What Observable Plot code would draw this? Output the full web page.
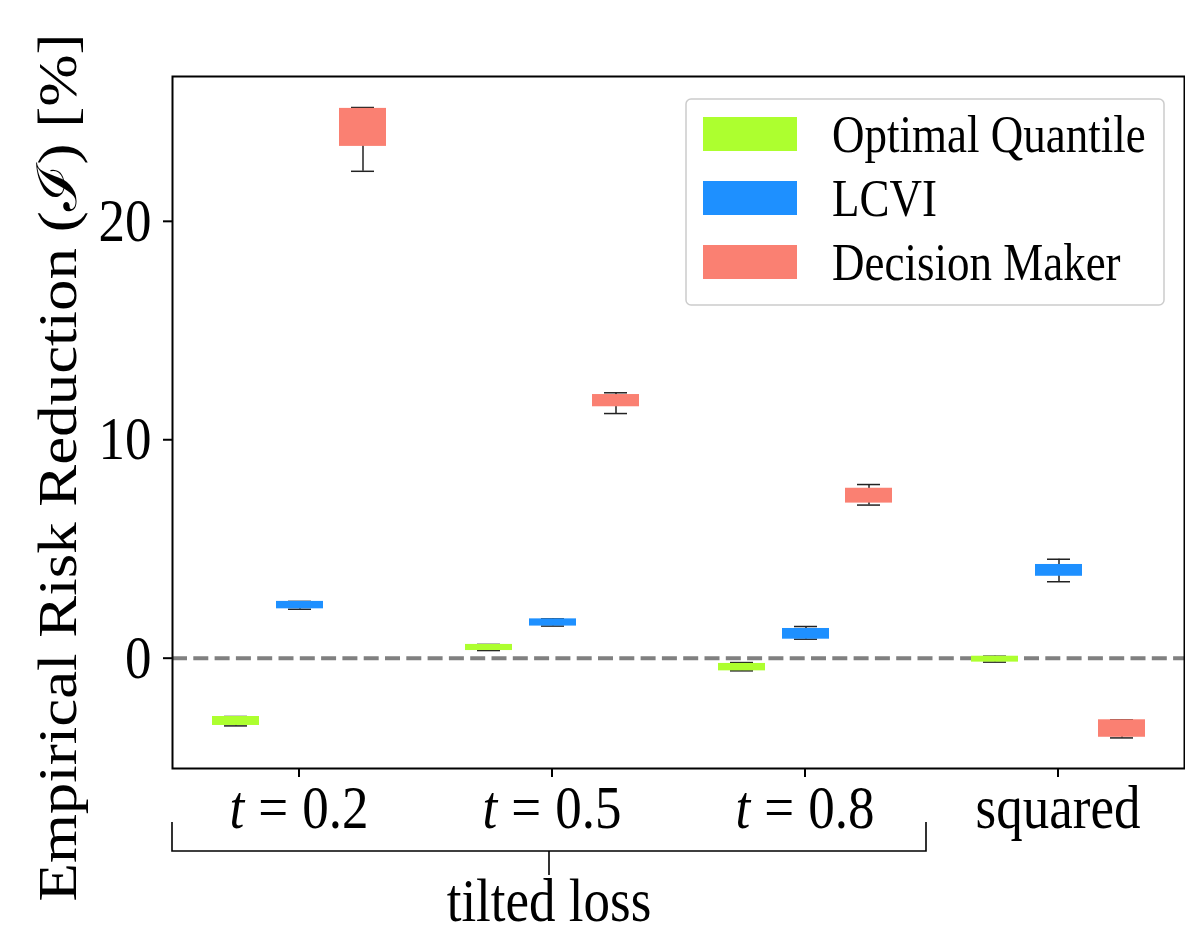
<!DOCTYPE html>
<html>
<head>
<meta charset="utf-8">
<script src="https://cdn.jsdelivr.net/npm/d3@7"></script>
<script src="https://cdn.jsdelivr.net/npm/@observablehq/plot@0.6"></script>
<style>
  html, body { margin: 0; padding: 0; background: white; }
  #chart { width: 1185px; height: 936px; }
</style>
</head>
<body>
<div id="chart"></div>
<script>
// ---- Data ----
const losses = ["t = 0.2", "t = 0.5", "t = 0.8", "squared"];
const methods = ["Optimal Quantile", "LCVI", "Decision Maker"];
const colors = ["#ADFF2F", "#1E90FF", "#FA8072"];
const yTicks = [0, 10, 20];
const yLabel = "Empirical Risk Reduction (\u2110) [%]";
const groupLabel = "tilted loss";

// Optimal Quantile
const oqQ1 = [-3.08, 0.35, -0.58, -0.18];
const oqQ3 = [-2.67, 0.63, -0.24, 0.09];
const oqLo = [-3.10, 0.35, -0.58, -0.18];
const oqHi = [-2.67, 0.63, -0.20, 0.09];
// LCVI
const lcviQ1 = [2.26, 1.47, 0.87, 3.75];
const lcviQ3 = [2.60, 1.80, 1.36, 4.29];
const lcviLo = [2.24, 1.47, 0.87, 3.50];
const lcviHi = [2.60, 1.80, 1.45, 4.53];
// Decision Maker
const dmQ1 = [23.43, 11.51, 7.10, -3.62];
const dmQ3 = [25.17, 12.07, 7.78, -2.82];
const dmLo = [22.29, 11.20, 7.01, -3.65];
const dmHi = [25.21, 12.15, 7.95, -2.82];

const stats = [
  {q1: oqQ1, q3: oqQ3, lo: oqLo, hi: oqHi},
  {q1: lcviQ1, q3: lcviQ3, lo: lcviLo, hi: lcviHi},
  {q1: dmQ1, q3: dmQ3, lo: dmLo, hi: dmHi}
];
const rowsByMethod = methods.map((m, i) => losses.map((l, j) => ({
  method: m, loss: l,
  q1: stats[i].q1[j], q3: stats[i].q3[j], lo: stats[i].lo[j], hi: stats[i].hi[j]
})));

// ---- Layout ----
const offsets = [-63, 1, 64];
const boxInset = 103;
const capInset = 115;
const FONT = "'Liberation Serif', 'Times New Roman', 'DejaVu Serif', serif";
const FS = 53;          // tick / axis text size
const STRETCH = 1.15;   // vertical stretch of the reference's glyphs

const boxMarks = rowsByMethod.flatMap((rows, i) => [
  Plot.ruleX(rows, {x: "loss", y1: "lo", y2: "hi", dx: offsets[i], stroke: "#222", strokeWidth: 1.5}),
  Plot.tickY(rows, {x: "loss", y: "lo", dx: offsets[i], insetLeft: capInset, insetRight: capInset, stroke: "#222", strokeWidth: 1.5}),
  Plot.tickY(rows, {x: "loss", y: "hi", dx: offsets[i], insetLeft: capInset, insetRight: capInset, stroke: "#222", strokeWidth: 1.5}),
  Plot.barY(rows, {x: "loss", y1: "q1", y2: "q3", fill: "method", dx: offsets[i], insetLeft: boxInset, insetRight: boxInset})
]);

const plot = Plot.plot({
  width: 1185,
  height: 936,
  marginLeft: 172,
  marginRight: 1,
  marginTop: 76,
  marginBottom: 168,
  style: {fontFamily: FONT, fontSize: FS + "px", color: "black", background: "white"},
  x: {domain: losses, padding: 0},
  y: {domain: [-5.05, 26.63]},
  color: {domain: methods, range: colors},
  marks: [
    Plot.ruleY([0], {stroke: "#808080", strokeWidth: 4, strokeDasharray: "15,6.3"}),
    ...boxMarks,
    Plot.axisY({ticks: yTicks, tickSize: 9, tickPadding: 12, label: null, strokeWidth: 2, fontSize: FS}),
    Plot.axisX({tickSize: 9, tickFormat: () => "", label: null, strokeWidth: 2}),
    Plot.frame({stroke: "black", strokeWidth: 2}),
    Plot.text(losses, {x: d => d, text: d => d, frameAnchor: "bottom", dy: 59, fontSize: FS}),
    Plot.text([groupLabel], {x: () => losses[1], text: d => d, frameAnchor: "bottom", dy: 152, dx: -3, fontSize: FS}),
    Plot.text([yLabel], {frameAnchor: "left", textAnchor: "middle", rotate: -90, dx: -114, dy: 45, fontSize: 55})
  ]
});

document.getElementById("chart").appendChild(plot);

const svg = d3.select(plot);

svg.selectAll("text").each(function() {
  const el = d3.select(this);
  const t = this.textContent;
  if (t === yLabel) {
    // stretch along its length like the reference
    el.attr("textLength", 868).attr("lengthAdjust", "spacingAndGlyphs");
    return;
  }
  // italic "t" in tick labels
  if (t.startsWith("t = ")) {
    el.text(null);
    el.append("tspan").attr("font-style", "italic").text("t");
    el.append("tspan").attr("dx", 14).text("=");
    el.append("tspan").attr("dx", 14).text(t.slice(4));
  }
  // vertical stretch of horizontal texts
  const tr = el.attr("transform");
  if (tr) {
    el.attr("transform", tr + ` scale(1,${STRETCH})`);
  } else {
    const x = +el.attr("x") || 0, y = +el.attr("y") || 0;
    el.attr("transform", `translate(${x},${y}) scale(1,${STRETCH}) translate(${-x},${-y})`);
  }
});

// bracket under the tilted-loss groups
const xs = plot.scale("x");
const xl = xs.apply(losses[0]);
const xr = xs.apply(losses[2]) + xs.bandwidth - 5;
const xm = (xl + xr) / 2;
svg.append("path")
  .attr("d", `M${xl},822V851H${xr}V822M${xm},851V875`)
  .attr("fill", "none").attr("stroke", "black").attr("stroke-width", 1.6);

// legend
const lg = svg.append("g").attr("font-family", FONT).attr("font-size", 45).attr("text-anchor", "start");
lg.append("rect").attr("x", 686).attr("y", 99).attr("width", 478).attr("height", 206)
  .attr("rx", 5).attr("fill", "white").attr("fill-opacity", 0.8)
  .attr("stroke", "#cccccc").attr("stroke-width", 1.5);
methods.forEach((m, i) => {
  const y = 117 + i * 64;
  lg.append("rect").attr("x", 703).attr("y", y).attr("width", 94).attr("height", 34).attr("fill", colors[i]);
  lg.append("text")
    .attr("transform", `translate(832,${y + 17}) scale(1,${STRETCH})`)
    .attr("dy", "0.35em").attr("fill", "black").attr("text-anchor", "start").text(m);
});
</script>
</body>
</html>
